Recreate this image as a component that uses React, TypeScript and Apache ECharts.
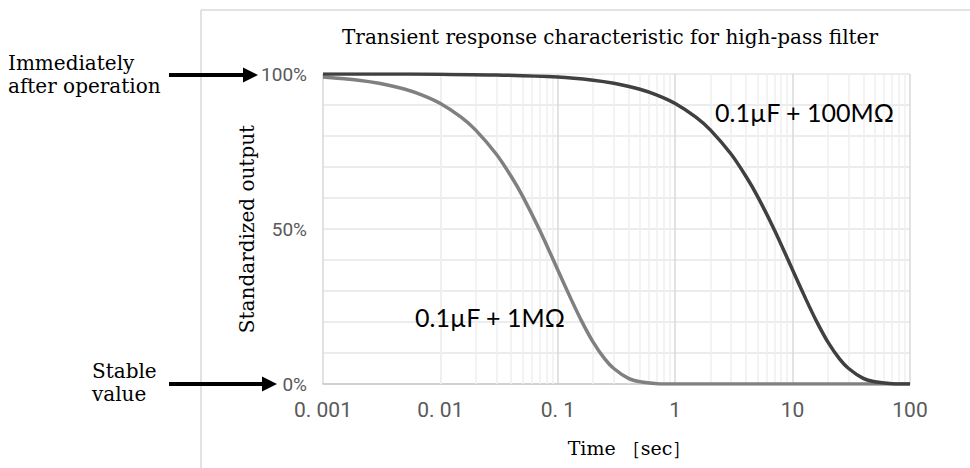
import React, { useEffect, useRef } from "react";
import * as echarts from "echarts";

const titleText = "Transient response characteristic for high-pass filter";
const yAxisName = "Standardized output";
const xAxisName = "Time ［sec］";

const xTicks = [0.001, 0.01, 0.1, 1, 10, 100];
const xTickLabels = ["0. 001", "0. 01", "0. 1", "1", "10", "100"];
const yTickLabels = ["0%", "50%", "100%"];

const minorGridX = [
  0.002, 0.003, 0.004, 0.005, 0.006, 0.007, 0.008, 0.009,
  0.02, 0.03, 0.04, 0.05, 0.06, 0.07, 0.08, 0.09,
  0.2, 0.3, 0.4, 0.5, 0.6, 0.7, 0.8, 0.9,
  2, 3, 4, 5, 6, 7, 8, 9,
  20, 30, 40, 50, 60, 70, 80, 90,
];

// 0.1µF + 1MΩ
const timeA = [0.001, 0.002, 0.003, 0.005, 0.007, 0.01, 0.015, 0.02, 0.03, 0.04, 0.05, 0.07, 0.1, 0.13, 0.16, 0.2, 0.25, 0.3, 0.4, 0.5, 0.7, 1, 2, 5, 10, 20, 50, 100];
const outputA = [99.0, 98.0, 97.0, 95.1, 93.2, 90.5, 86.1, 81.9, 74.1, 67.0, 60.7, 49.7, 36.8, 27.3, 20.2, 13.5, 8.2, 5.0, 1.8, 0.7, 0.1, 0, 0, 0, 0, 0, 0, 0];

// 0.1µF + 100MΩ
const timeB = [0.001, 0.003, 0.01, 0.03, 0.1, 0.2, 0.3, 0.5, 0.7, 1, 1.5, 2, 3, 4, 5, 7, 10, 13, 16, 20, 25, 30, 40, 50, 70, 100];
const outputB = [100, 100, 99.9, 99.7, 99.0, 98.0, 97.0, 95.1, 93.2, 90.5, 86.1, 81.9, 74.1, 67.0, 60.7, 49.7, 36.8, 27.3, 20.2, 13.5, 8.2, 5.0, 1.8, 0.7, 0.1, 0];

const labelA = "0.1µF + 1MΩ";
const labelB = "0.1µF + 100MΩ";
const noteTop = "Immediately\nafter operation";
const noteBottom = "Stable\nvalue";

const SERIF = "DejaVu Serif, serif";
const NARROW = "Roboto, sans-serif";

export default function App() {
  const ref = useRef<HTMLDivElement>(null);
  useEffect(() => {
    document.body.style.margin = "0";
    if (!ref.current) return;
    const chart = echarts.init(ref.current, null, { renderer: "svg" });
    const arrow = (y: number, x0: number, x1: number) => [
      { type: "line", shape: { x1: x0, y1: y, x2: x1 - 13, y2: y }, style: { stroke: "#000", lineWidth: 4 } },
      { type: "polygon", shape: { points: [[x1 - 15, y - 7.5], [x1, y], [x1 - 15, y + 7.5]] }, style: { fill: "#000" } },
    ];
    chart.setOption({
      animation: false,
      backgroundColor: "#fff",
      grid: { left: 323, right: 60, top: 74, bottom: 84, containLabel: false },
      xAxis: {
        type: "log",
        logBase: 10,
        min: 0.001,
        max: 100,
        name: xAxisName,
        nameLocation: "middle",
        nameGap: 54,
        nameMoveOverlap: false,
        nameTextStyle: { fontFamily: SERIF, fontSize: 19, color: "#000", padding: [0, 0, 0, 26] },
        axisLine: { show: true, lineStyle: { color: "#c8c8c8", width: 1.5 } },
        axisTick: { show: false },
        axisLabel: {
          margin: 15,
          fontFamily: NARROW,
          fontSize: 21,
          color: "#595959",
          formatter: (v: number) => {
            const e = Math.round(Math.log10(v));
            const i = xTicks.findIndex((t) => Math.round(Math.log10(t)) === e);
            return i >= 0 ? xTickLabels[i] : "";
          },
        },
        splitLine: { show: true, lineStyle: { color: "#d9d9d9", width: 1.5 } },
      },
      yAxis: {
        type: "value",
        min: 0,
        max: 100,
        interval: 10,
        name: yAxisName,
        nameLocation: "middle",
        nameGap: 66,
        nameMoveOverlap: false,
        nameTextStyle: { fontFamily: SERIF, fontSize: 20, color: "#000" },
        axisLine: { show: false },
        axisTick: { show: false },
        axisLabel: {
          margin: 16,
          fontFamily: NARROW,
          fontSize: 19,
          color: "#595959",
          formatter: (v: number) => (v % 50 === 0 ? yTickLabels[v / 50] : ""),
        },
        splitLine: { show: true, lineStyle: { color: "#e6e6e6", width: 1.5 } },
      },
      series: [
        {
          type: "line",
          name: labelA,
          data: timeA.map((t, i) => [t, outputA[i]]),
          smooth: 0.3,
          showSymbol: false,
          lineStyle: { color: "#808080", width: 3.5 },
          z: 3,
          markLine: {
            silent: true,
            symbol: "none",
            z: 1,
            label: { show: false },
            lineStyle: { color: "#efefef", width: 1.5, type: "solid" },
            data: minorGridX.map((x) => ({ xAxis: x })),
          },
        },
        {
          type: "line",
          name: labelB,
          data: timeB.map((t, i) => [t, outputB[i]]),
          smooth: 0.3,
          showSymbol: false,
          lineStyle: { color: "#404040", width: 3.5 },
          z: 4,
        },
      ],
      graphic: [
        { type: "line", shape: { x1: 201, y1: 10, x2: 970, y2: 10 }, style: { stroke: "#d9d9d9", lineWidth: 1.5 } },
        { type: "line", shape: { x1: 201, y1: 10, x2: 201, y2: 468 }, style: { stroke: "#d9d9d9", lineWidth: 1.5 } },
        { type: "text", x: 610, y: 37, style: { text: titleText, font: `20px ${SERIF}`, fill: "#000", textAlign: "center", textVerticalAlign: "middle" } },
        { type: "text", x: 8, y: 74, style: { text: noteTop, font: `20px ${SERIF}`, fill: "#000", textAlign: "left", textVerticalAlign: "middle", lineHeight: 23 } },
        { type: "text", x: 92, y: 382, style: { text: noteBottom, font: `20px ${SERIF}`, fill: "#000", textAlign: "left", textVerticalAlign: "middle", lineHeight: 23 } },
        ...arrow(75, 169, 258),
        ...arrow(384, 169, 277),
        { type: "text", x: 715, y: 112, z: 10, style: { text: labelB, font: `25px Lato, sans-serif`, fill: "#000", textAlign: "left", textVerticalAlign: "middle" } },
        { type: "text", x: 415, y: 317, z: 10, style: { text: labelA, font: `25px Lato, sans-serif`, fill: "#000", textAlign: "left", textVerticalAlign: "middle" } },
      ],
    });
    return () => chart.dispose();
  }, []);
  return <div ref={ref} style={{ width: 970, height: 468, position: "fixed", left: 0, top: 0 }} />;
}
